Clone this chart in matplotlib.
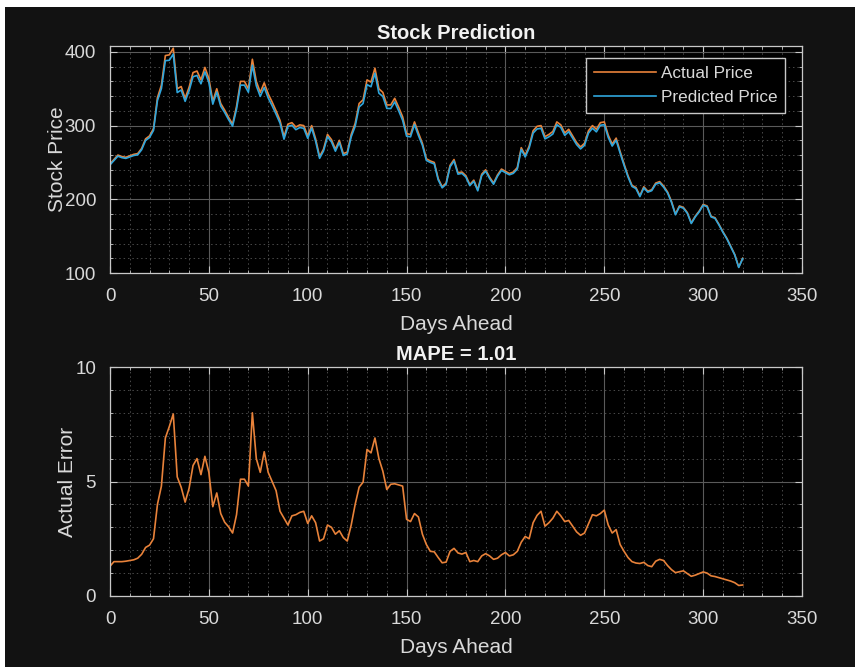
import numpy as np
import matplotlib
matplotlib.use('Agg')
import matplotlib.pyplot as plt
from matplotlib.ticker import MultipleLocator
from matplotlib.patches import Rectangle

days = np.arange(0, 322, 2)

actual_price = [
    248, 254, 260, 258, 257, 259, 261, 262, 269, 282,
    286, 296, 338, 355, 395, 396, 405, 350, 353, 337,
    352, 372, 374, 362, 379, 364, 333, 350, 330, 321,
    311, 302, 326, 360, 360, 350, 390, 360, 345, 358,
    343, 332, 320, 307, 285, 302, 304, 298, 301, 300,
    286, 300, 282, 258, 268, 288, 281, 268, 280, 262,
    264, 288, 303, 330, 335, 362, 359, 378, 350, 345,
    328, 328, 337, 325, 312, 289, 288, 305, 290, 276,
    255, 252, 250, 228, 217, 222, 246, 254, 236, 237,
    232, 220, 226, 213, 234, 240, 230, 222, 233, 241,
    238, 235, 237, 243, 270, 260, 272, 293, 299, 300,
    285, 288, 292, 305, 301, 290, 295, 286, 277, 271,
    276, 293, 300, 295, 304, 305, 287, 275, 283, 265,
    248, 232, 219, 216, 205, 217, 211, 213, 222, 224,
    218, 210, 197, 180, 191, 189, 182, 168, 177, 184,
    193, 191, 177, 175, 166, 156, 147, 136, 125, 108,
    120,
]

actual_error = [
    1.30, 1.50, 1.50, 1.50, 1.52, 1.55, 1.58, 1.65, 1.82, 2.12,
    2.22, 2.50, 4.00, 4.80, 6.90, 7.40, 7.95, 5.20, 4.75, 4.10,
    4.70, 5.70, 6.00, 5.30, 6.10, 5.40, 3.90, 4.50, 3.60, 3.22,
    3.02, 2.75, 3.55, 5.10, 5.10, 4.80, 8.00, 6.00, 5.40, 6.30,
    5.40, 5.00, 4.60, 3.70, 3.40, 3.10, 3.50, 3.55, 3.65, 3.70,
    3.17, 3.50, 3.20, 2.40, 2.50, 3.10, 3.00, 2.70, 2.85, 2.55,
    2.40, 3.10, 4.00, 4.75, 4.97, 6.40, 6.25, 6.90, 6.00, 5.45,
    4.65, 4.88, 4.90, 4.85, 4.80, 3.35, 3.25, 3.60, 3.45, 2.70,
    2.25, 1.95, 1.93, 1.68, 1.45, 1.48, 1.95, 2.08, 1.88, 1.83,
    1.90, 1.50, 1.55, 1.50, 1.75, 1.85, 1.75, 1.60, 1.65, 1.80,
    1.90, 1.75, 1.80, 1.95, 2.35, 2.60, 2.50, 3.20, 3.52, 3.70,
    3.05, 3.20, 3.40, 3.70, 3.50, 3.25, 3.30, 3.05, 2.80, 2.65,
    2.75, 3.15, 3.55, 3.50, 3.60, 3.75, 3.10, 2.75, 2.90, 2.25,
    1.95, 1.68, 1.50, 1.44, 1.42, 1.47, 1.33, 1.28, 1.52, 1.60,
    1.55, 1.33, 1.15, 1.02, 1.06, 1.10, 0.98, 0.86, 0.91, 0.98,
    1.05, 1.00, 0.88, 0.85, 0.80, 0.75, 0.70, 0.65, 0.58, 0.46,
    0.48,
]

predicted_price = np.array(actual_price) - np.array(actual_error)
mape = 1.01

orange = '#E8823A'
blue = '#2FA6DC'
fg = '#D9D9D9'
bg = '#121212'

plt.rcParams['font.family'] = ['Liberation Sans', 'DejaVu Sans']

fig = plt.figure(figsize=(8.55, 6.67), dpi=100, facecolor='white')
fig.patches.append(Rectangle((5 / 855, 0), 1, 1 - 7 / 667, transform=fig.transFigure,
                             facecolor=bg, edgecolor='none', zorder=-10))

ax1 = fig.add_axes([110 / 855, 1 - 273 / 667, 692 / 855, 227 / 667])
ax2 = fig.add_axes([110 / 855, 1 - 596 / 667, 692 / 855, 229 / 667])


def style(ax, ymajor, yminor):
    ax.set_facecolor('black')
    for s in ax.spines.values():
        s.set_color('#C8C8C8')
        s.set_linewidth(0.9)
    ax.set_xlim(0, 350)
    ax.xaxis.set_major_locator(MultipleLocator(50))
    ax.xaxis.set_minor_locator(MultipleLocator(10))
    ax.yaxis.set_major_locator(MultipleLocator(ymajor))
    ax.yaxis.set_minor_locator(MultipleLocator(yminor))
    ax.tick_params(which='both', direction='in', top=True, right=True,
                   color='#C8C8C8', labelcolor=fg, labelsize=13.5)
    ax.tick_params(which='major', length=5)
    ax.tick_params(axis='x', which='major', pad=11)
    ax.tick_params(axis='y', which='major', pad=10)
    ax.tick_params(which='minor', length=2.5)
    ax.grid(which='major', color='#5A5A5A', linewidth=0.8, linestyle='-')
    ax.grid(which='minor', color='#4A4A4A', linewidth=0.7, linestyle=(0, (1.5, 3)))
    ax.set_axisbelow(True)
    ax.set_xlabel('Days Ahead', color=fg, fontsize=15, labelpad=7)


style(ax1, 100, 20)
ax1.plot(days, actual_price, color=orange, linewidth=1.2, label='Actual Price')
ax1.plot(days, predicted_price, color=blue, linewidth=1.2, label='Predicted Price')
ax1.set_ylim(100, 408)
ax1.set_ylabel('Stock Price', color=fg, fontsize=15)
ax1.yaxis.set_label_coords(-0.062, 0.5)
ax1.set_title('Stock Prediction', color='#F2F2F2', fontsize=14.5, fontweight='bold', pad=5)
leg = ax1.legend(loc='upper right', bbox_to_anchor=(0.9754, 0.947), borderaxespad=0,
                 fontsize=12.3, handlelength=3.6, frameon=True, fancybox=False,
                 labelspacing=0.55, borderpad=0.45, handletextpad=0.3)
leg.get_frame().set_facecolor('black')
leg.get_frame().set_edgecolor('#C8C8C8')
leg.get_frame().set_alpha(1)
for t in leg.get_texts():
    t.set_color(fg)

style(ax2, 5, 1)
ax2.plot(days, actual_error, color=orange, linewidth=1.2)
ax2.set_ylim(0, 10)
ax2.set_ylabel('Actual Error', color=fg, fontsize=15)
ax2.yaxis.set_label_coords(-0.048, 0.5)
ax2.set_title('MAPE = %.2f' % mape, color='#F2F2F2', fontsize=14.5, fontweight='bold', pad=5)

fig.savefig('out.png', dpi=100, facecolor=fig.get_facecolor())
